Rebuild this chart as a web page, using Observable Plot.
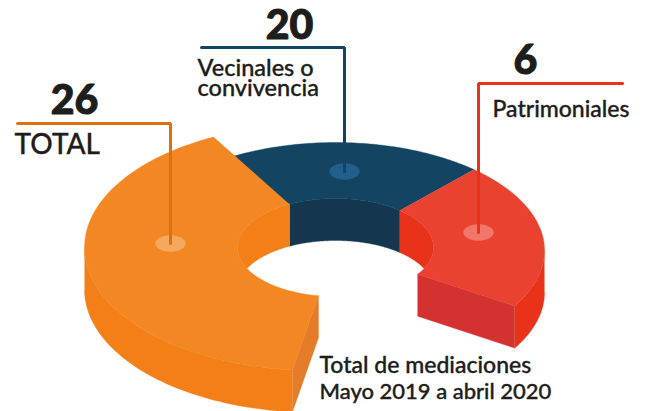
<!DOCTYPE html>
<html>
<head>
<meta charset="utf-8">
<script src="https://cdn.jsdelivr.net/npm/d3@7"></script>
<script src="https://cdn.jsdelivr.net/npm/@observablehq/plot@0.6"></script>
<style>html,body{margin:0;padding:0;background:#fff}svg{display:block}</style>
</head>
<body>
<div id="chart"></div>
<script>
// Data
const categories = ["TOTAL", "Vecinales o\nconvivencia", "Patrimoniales"];
const values = [26, 20, 6];
const footnote = ["Total de mediaciones", "Mayo 2019 a abril 2020"];

// Slice angles (degrees on the tilted ring, as drawn; not proportional to the values)
const outerStart = [244, -124, -48.5];
const outerEnd   = [95.5, -48.5, 31];
const innerStart = [242, -118, -49];
const innerEnd   = [100, -49, 33];

// Colours per slice
const topColor   = ["#f28724", "#134563", "#ea4230"];
const wallColor  = ["#f37f16", "#14374f", "#e8321a"];
const frontColor = ["#e57c2a", "#14374f", "#d43231"];
const lineColor  = ["#e0700f", "#134563", "#e8321a"];
const dotColor   = ["#f6a95e", "#21608b", "#f0776a"];

// Ring ellipses
const ringOuter = {cx: 335, cy: 250, rx: 209, ry: 108};
const orangeOuter = {cx: 314, cy: 247, rx: 230, ry: 123};
const ringInner = {cx: 335, cy: 247, rx: 98, ry: 49};
const depth = 42;

const rad = d => d * Math.PI / 180;
const arc = (e, a0, a1, dy = 0, n = 90) =>
  d3.range(n + 1).map(i => {
    const a = rad(a0 + (a1 - a0) * i / n);
    return {x: e.cx + e.rx * Math.cos(a), y: e.cy + dy + e.ry * Math.sin(a)};
  });
const poly = (pts, fill) => Plot.line(pts, {x: "x", y: "y", fill, stroke: fill, strokeWidth: 0.4});
const clipDeg = Math.asin(depth / 2 / ringInner.ry) * 180 / Math.PI;

const outerOf = [orangeOuter, ringOuter, ringOuter];
const topFace = i => [
  ...arc(outerOf[i], outerStart[i], outerEnd[i]),
  ...arc(ringInner, innerEnd[i], innerStart[i])
];
const shift = (p, dy) => p.map(d => ({x: d.x, y: d.y + dy}));
const front = i => {
  const a = arc(outerOf[i], outerEnd[i], outerEnd[i], 0, 1)[0];
  const b = arc(ringInner, innerEnd[i], innerEnd[i], 0, 1)[0];
  return [a, b, {x: b.x, y: b.y + depth}, {x: a.x, y: a.y + depth}];
};
const band = (e, a0, a1) => {
  const p = arc(e, a0, a1);
  return [...p, ...shift(p, depth).reverse()];
};

const navyWall = band(ringInner, innerStart[1], innerEnd[1]);
const orangeInnerWall = [
  ...arc(ringInner, innerStart[0], 180 - clipDeg),
  ...arc(ringInner, 180 + clipDeg, innerStart[0], depth)
];
const redInnerWall = [
  ...arc(ringInner, innerEnd[1], clipDeg),
  ...arc(ringInner, -clipDeg, innerEnd[1], depth)
];

const ellipseDot = c => arc({cx: c.x, cy: c.y, rx: 15, ry: 8}, 0, 360);
// Marker on each slice, and the leader that rises from it to its label
const marker = [{x: 170, y: 243}, {x: 344, y: 171}, {x: 478, y: 232}];
const leaderEnd = [{x: 17, y: 123}, {x: 201, y: 47}, {x: 622, y: 83}];
const leader = i => [marker[i], {x: marker[i].x, y: leaderEnd[i].y}, leaderEnd[i]];

const font = "Lato, sans-serif";
const bold = (text, x, y) => Plot.text([text], {x: () => x, y: () => y, text: d => d, fontSize: 41, fontWeight: 900, fontFamily: font, fill: "#1d1d1b", textAnchor: "middle", lineAnchor: "bottom", stroke: "#1d1d1b", strokeWidth: 1});
const label = (text, x, y, size, lineHeight = 1) => Plot.text([text], {x: () => x, y: () => y, text: d => d, fontSize: size, lineHeight, fontWeight: 500, fontFamily: font, fill: "#1d1d1b", textAnchor: "start", lineAnchor: "bottom", stroke: "#1d1d1b", strokeWidth: 0.35});

const plot = Plot.plot({
  width: 647, height: 411,
  margin: 0,
  x: {domain: [0, 647], range: [0, 647], axis: null},
  y: {domain: [0, 411], range: [0, 411], axis: null},
  style: {background: "#fff"},
  marks: [
    poly(navyWall, wallColor[1]),
    poly(topFace(1), topColor[1]),
    poly(orangeInnerWall, wallColor[0]),
    poly(redInnerWall, wallColor[2]),
    poly(band(orangeOuter, 180, outerEnd[0]), wallColor[0]),
    poly(front(0), frontColor[0]),
    poly(topFace(0), topColor[0]),
    poly(band(ringOuter, 0, outerEnd[2]), wallColor[2]),
    poly(front(2), frontColor[2]),
    poly(topFace(2), topColor[2]),
    ...marker.map((m, i) => poly(ellipseDot(m), dotColor[i])),
    ...marker.map((m, i) => Plot.line(leader(i), {x: "x", y: "y", stroke: lineColor[i], strokeWidth: 3, strokeLinecap: "round", strokeLinejoin: "miter"})),
    bold(String(values[0]), 74, 113),
    bold(String(values[1]), 289, 38),
    bold(String(values[2]), 525, 73),
    label(categories[0], 14, 153, 28),
    label(categories[1], 197, 95, 23.5, 0.85),
    label(categories[2], 492, 116, 23),
    label(footnote[0], 319, 372, 23),
    label(footnote[1], 319, 398, 22)
  ]
});
document.getElementById("chart").appendChild(plot);
</script>
</body>
</html>
